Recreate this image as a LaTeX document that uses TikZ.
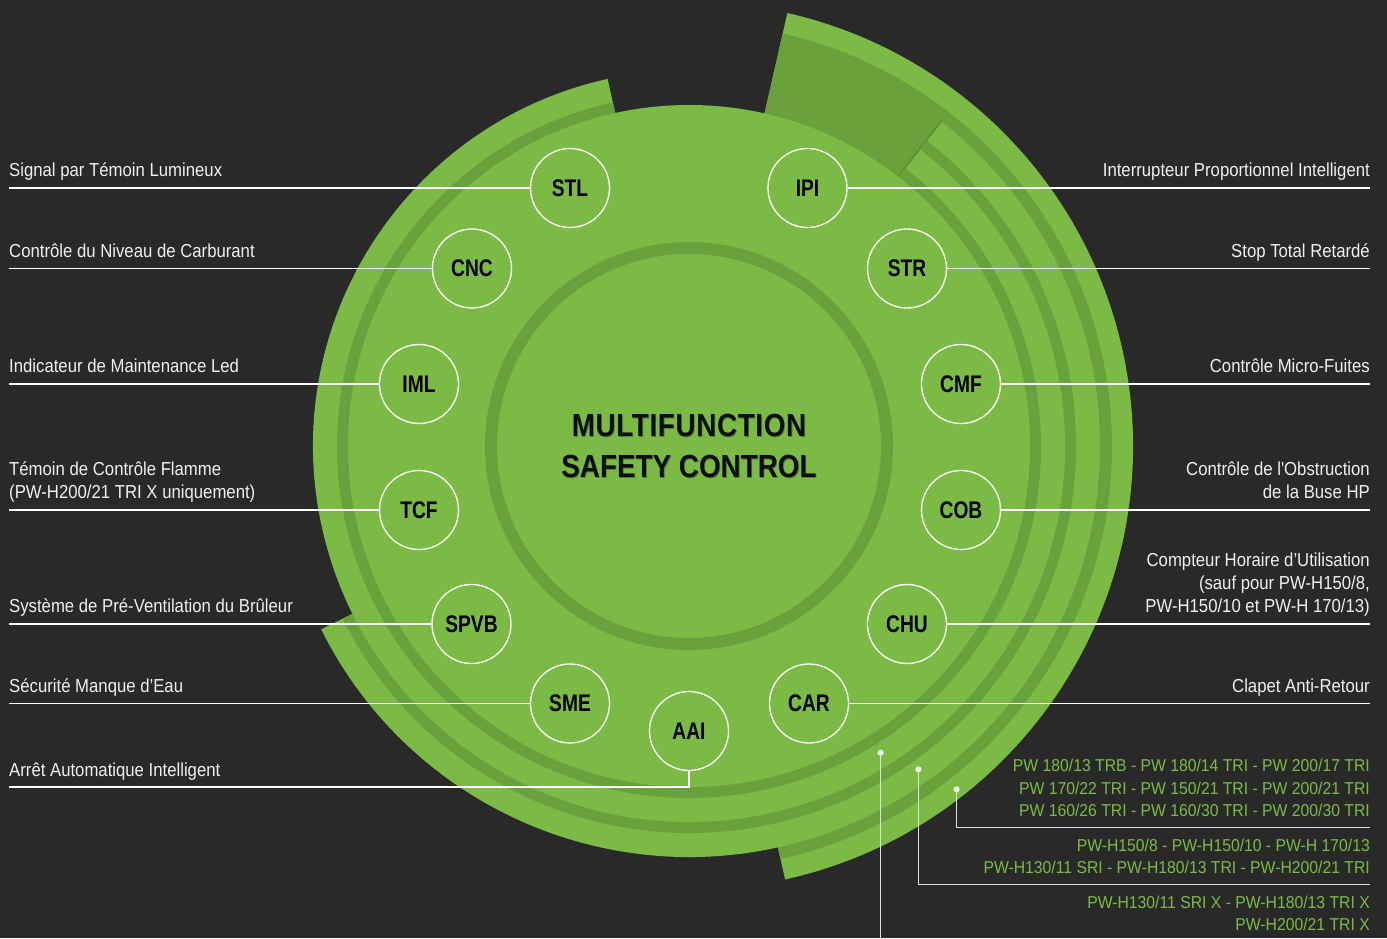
\documentclass[tikz,border=0pt]{standalone}
\usepackage{fontspec}
\setmainfont{Liberation Sans}
\newfontfamily\labr[FakeStretch=0.89]{Liberation Sans}
\newfontfamily\glab[FakeStretch=0.915]{Liberation Sans}
\newfontfamily\labbf[FakeStretch=0.8]{Liberation Sans}
\newfontfamily\titf[FakeStretch=0.87]{Liberation Sans}
\definecolor{bg}{RGB}{41,41,41}
\definecolor{lg}{RGB}{123,187,69}
\definecolor{dg}{RGB}{106,161,61}
\definecolor{eg}{RGB}{92,143,52}
\definecolor{tsh}{RGB}{84,128,48}
\definecolor{wt}{RGB}{240,240,240}
\newcommand{\mysector}[5]{\fill[#1] (C) -- ++(#2:#4) arc[start angle=#2,end angle=#3,radius=#4] -- cycle;}
\begin{document}
\begin{tikzpicture}[x=1pt,y=1pt,
  fn/.style={circle, draw=white, line width=1.3pt, minimum size=79pt, inner sep=0pt,
             text=black, font=\labbf\bfseries\fontsize{24}{24}\selectfont},
  wline/.style={draw=white, line width=1.5pt},
  gline/.style={draw=white!88!black, line width=1.3pt},
  lbl/.style={inner sep=0pt, text=wt, font=\labr\fontsize{18.8}{22}\selectfont},
  lblL/.style={lbl, anchor=base west},
  lblR/.style={lbl, anchor=base east},
  glbl/.style={inner sep=0pt, text=lg, anchor=base east, font=\glab\fontsize{17.2}{20}\selectfont},
  dotn/.style={circle, fill=white, inner sep=0pt, minimum size=6pt},
  ttl/.style={inner sep=0pt, anchor=base, font=\titf\bfseries\fontsize{32}{32}\selectfont}
]
\useasboundingbox (0,0) rectangle (1387,938);
\fill[bg] (0,0) rectangle (1387,938);
\coordinate (C) at (689,492);
% band C
\mysector{lg}{-77.5}{77.2}{444pt}{}
\mysector{dg}{-77.5}{77.2}{423pt}{}
% band B
\mysector{lg}{206.5}{412}{411pt}{}
\mysector{dg}{206.5}{412}{387pt}{}
% band A
\mysector{lg}{102.5}{412}{376pt}{}
\mysector{dg}{102.5}{412}{352pt}{}
% base disc
\fill[lg] (C) circle[radius=341pt];
\draw[eg, line width=1.4pt] (C) ++(52.2:341pt) -- ++(52.2:70pt);
% inner ring
\draw[dg, line width=12pt] (C) circle[radius=198pt];

% title
\node[ttl, text=tsh] (t1s) at (689.9,500) {\addfontfeature{LetterSpace=2}MULTIFUNCTION};
\node[ttl, text=tsh] (t2s) at (689.9,459) {SAFETY CONTROL};
\node[ttl, text=black!95] (t1) at (689,501) {\addfontfeature{LetterSpace=2}MULTIFUNCTION};
\node[ttl, text=black!95] (t2) at (689,460) {SAFETY CONTROL};

% function nodes
\node[fn] (STL) at (570,750) {STL};
\node[fn] (IPI) at (807.5,750) {IPI};
\node[fn] (CNC) at (472,669.5) {CNC};
\node[fn] (STR) at (907,669.5) {STR};
\node[fn] (IML) at (419,554) {IML};
\node[fn] (CMF) at (961,554) {CMF};
\node[fn] (TCF) at (419,428) {TCF};
\node[fn] (COB) at (961,428) {COB};
\node[fn] (SPVB) at (471.5,314) {SPVB};
\node[fn] (CHU) at (907,314) {CHU};
\node[fn] (SME) at (570,234.5) {SME};
\node[fn] (CAR) at (809,234.5) {CAR};
\node[fn] (AAI) at (689,207) {AAI};

% line ends
\coordinate (aSTL) at (9,750);
\coordinate (aCNC) at (9,669.5);
\coordinate (aIML) at (9,554);
\coordinate (aTCF) at (9,428);
\coordinate (aSPVB) at (9,314);
\coordinate (aSME) at (9,234.5);
\coordinate (kAAI) at (689,151);
\coordinate (aAAI) at (9,151);
\coordinate (aIPI) at (1370,750);
\coordinate (aSTR) at (1370,669.5);
\coordinate (aCMF) at (1370,554);
\coordinate (aCOB) at (1370,428);
\coordinate (aCHU) at (1370,314);
\coordinate (aCAR) at (1370,234.5);

\draw[wline] (aSTL) -- (STL);
\draw[wline] (aCNC) -- (CNC);
\draw[wline] (aIML) -- (IML);
\draw[wline] (aTCF) -- (TCF);
\draw[wline] (aSPVB) -- (SPVB);
\draw[wline] (aSME) -- (SME);
\draw[wline] (AAI) -- (kAAI) -- (aAAI);
\draw[wline] (IPI) -- (aIPI);
\draw[wline] (STR) -- (aSTR);
\draw[wline] (CMF) -- (aCMF);
\draw[wline] (COB) -- (aCOB);
\draw[wline] (CHU) -- (aCHU);
\draw[wline] (CAR) -- (aCAR);

% left labels
\node[lblL] (LSTL) at (9,761) {Signal par Témoin Lumineux};
\node[lblL] (LCNC) at (9,680.5) {Contrôle du Niveau de Carburant};
\node[lblL] (LIML) at (9,565) {Indicateur de Maintenance Led};
\node[lblL] (LTCFa) at (9,462) {Témoin de Contrôle Flamme};
\node[lblL] (LTCFb) at (9,439) {(PW-H200/21 TRI X uniquement)};
\node[lblL] (LSPVB) at (9,325) {Système de Pré-Ventilation du Brûleur};
\node[lblL] (LSME) at (9,245.5) {Sécurité Manque d’Eau};
\node[lblL] (LAAI) at (9,162) {Arrêt Automatique Intelligent};

% right labels
\node[lblR] (LIPI) at (1370,761) {Interrupteur Proportionnel Intelligent};
\node[lblR] (LSTR) at (1370,680.5) {Stop Total Retardé};
\node[lblR] (LCMF) at (1370,565) {Contrôle Micro-Fuites};
\node[lblR] (LCOBa) at (1370,462) {Contrôle de l'Obstruction};
\node[lblR] (LCOBb) at (1370,439) {de la Buse HP};
\node[lblR] (LCHUa) at (1370,371) {Compteur Horaire d’Utilisation};
\node[lblR] (LCHUb) at (1370,348) {(sauf pour PW-H150/8,};
\node[lblR] (LCHUc) at (1370,325) {PW-H150/10 et PW-H 170/13)};
\node[lblR] (LCAR) at (1370,245.5) {Clapet Anti-Retour};

% model lists
\node[glbl] (g1a) at (1370,166.3) {PW 180/13 TRB - PW 180/14 TRI - PW 200/17 TRI};
\node[glbl] (g1b) at (1370,144) {PW 170/22 TRI - PW 150/21 TRI - PW 200/21 TRI};
\node[glbl] (g1c) at (1370,121.3) {PW 160/26 TRI - PW 160/30 TRI - PW 200/30 TRI};
\node[glbl] (g2a) at (1370,86.3) {PW-H150/8 - PW-H150/10 - PW-H 170/13};
\node[glbl] (g2b) at (1370,64.7) {PW-H130/11 SRI - PW-H180/13 TRI - PW-H200/21 TRI};
\node[glbl] (g3a) at (1370,29.7) {PW-H130/11 SRI X - PW-H180/13 TRI X};
\node[glbl] (g3b) at (1370,8) {PW-H200/21 TRI X};

% ring markers and connectors
\node[dotn] (d1) at (956.6,148.7) {};
\node[dotn] (d2) at (918.4,168.7) {};
\node[dotn] (d3) at (880.7,185.3) {};
\coordinate (k1) at (956.6,110.3);
\coordinate (e1) at (1370,110.3);
\coordinate (k2) at (918.4,53.7);
\coordinate (e2) at (1370,53.7);
\coordinate (e3) at (880.7,0);
\draw[gline] (d1.center) -- (k1) -- (e1);
\draw[gline] (d2.center) -- (k2) -- (e2);
\draw[gline] (d3.center) -- (e3);
\end{tikzpicture}
\end{document}
